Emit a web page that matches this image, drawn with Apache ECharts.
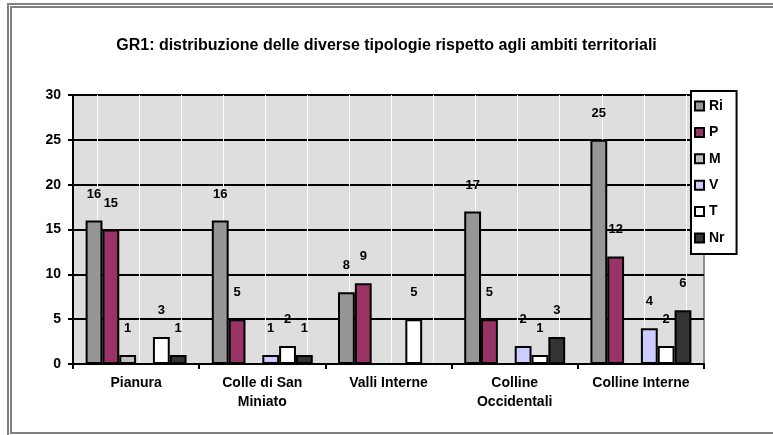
<!DOCTYPE html>
<html>
<head>
<meta charset="utf-8">
<script src="https://cdn.jsdelivr.net/npm/echarts@6/dist/echarts.min.js"></script>
<style>
    html, body { margin: 0; padding: 0; background: #fff; }
    #chart { width: 773px; height: 435px; }
</style>
</head>
<body>
<div id="chart"></div>
<script>
var categories = ["Pianura", "Colle di San\nMiniato", "Valli Interne", "Colline\nOccidentali", "Colline Interne"]
var seriesNames = ["Ri", "P", "M", "V", "T", "Nr"]
var seriesColors = ["#969696", "#993366", "#c0c0c0", "#ccccff", "#ffffff", "#333333"]
var valuesRi = [16, 16, 8, 17, 25]
var valuesP = [15, 5, 9, 5, 12]
var valuesM = [1, 0, 0, 0, 0]
var valuesV = [0, 1, 0, 2, 4]
var valuesT = [3, 2, 5, 1, 2]
var valuesNr = [1, 1, 0, 3, 6]
var yTicks = [0, 5, 10, 15, 20, 25, 30]

var allValues = [valuesRi, valuesP, valuesM, valuesV, valuesT, valuesNr]

var chart = echarts.init(document.getElementById("chart"))

var series = seriesNames.map(function (name, i) {
    return {
        name: name,
        type: "bar",
        xAxisIndex: 0,
        barGap: 0,
        barCategoryGap: "20%",
        itemStyle: {
            color: seriesColors[i],
            borderColor: "#000",
            borderWidth: 2
        },
        label: {
            show: true,
            position: "top",
            distance: 20,
            fontWeight: "bold",
            fontSize: 13,
            color: "#000",
            formatter: function (p) { return p.value === 0 ? "" : p.value }
        },
        data: allValues[i]
    }
})

chart.setOption({
    animation: false,
    textStyle: { fontFamily: "Arial, Liberation Sans" },
    title: {
        text: "GR1: distribuzione delle diverse tipologie rispetto agli ambiti territoriali",
        left: "center",
        top: 33,
        textStyle: { fontSize: 16, fontWeight: "bold", color: "#000" }
    },
    graphic: [
        { type: "rect", shape: { x: 8, y: 4, width: 780, height: 440 }, style: { fill: null, stroke: "#808080", lineWidth: 2 } },
        { type: "rect", shape: { x: 11, y: 7, width: 780, height: 426 }, style: { fill: null, stroke: "#808080", lineWidth: 2 } }
    ],
    legend: {
        orient: "vertical",
        left: 691,
        top: 91,
        padding: [8, 12, 9, 3],
        itemWidth: 9,
        itemHeight: 9,
        itemGap: 12.4,
        icon: "rect",
        backgroundColor: "#fff",
        borderColor: "#000",
        borderWidth: 2,
        z: 10,
        itemStyle: { borderColor: "#000", borderWidth: 2 },
        textStyle: { fontSize: 14, fontWeight: "bold", color: "#000" },
        data: seriesNames
    },
    grid: {
        left: 73,
        right: 69,
        top: 95,
        bottom: 71,
        show: true,
        backgroundColor: "#dedede",
        borderColor: "#8c8c8c",
        borderWidth: 2
    },
    xAxis: [{
        type: "category",
        data: categories,
        axisLine: { lineStyle: { color: "#000", width: 2 } },
        axisTick: { show: true, length: 5, lineStyle: { color: "#000", width: 2 } },
        axisLabel: {
            fontSize: 14,
            fontWeight: "bold",
            color: "#000",
            margin: 10,
            lineHeight: 19,
            interval: 0
        }
    }, {
        type: "value",
        position: "bottom",
        min: -0.571,
        max: 14.43,
        splitNumber: 15,
        axisLine: { show: false },
        axisTick: { show: false },
        axisLabel: { show: false },
        splitLine: { show: true, showMinLine: false, showMaxLine: false, lineStyle: { color: "#fbfbfb", width: 1 } }
    }],
    yAxis: {
        type: "value",
        min: yTicks[0],
        max: yTicks[yTicks.length - 1],
        interval: 5,
        axisLine: { show: true, onZero: false, lineStyle: { color: "#000", width: 2 } },
        axisTick: { show: true, length: 5, lineStyle: { color: "#000", width: 2 } },
        axisLabel: { fontSize: 14, fontWeight: "bold", color: "#000", margin: 12 },
        splitLine: { show: true, lineStyle: { color: "#000", width: 2 } }
    },
    series: series
})
</script>
</body>
</html>
